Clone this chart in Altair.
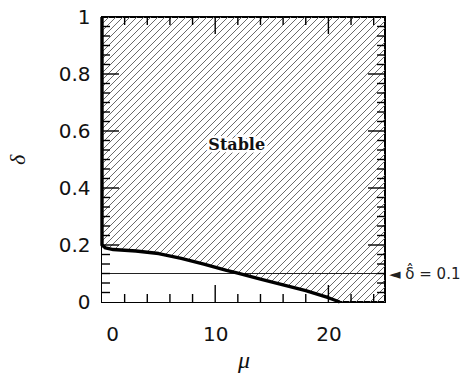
import altair as alt
import numpy as np
import pandas as pd

# Stability boundary delta(mu): stable region lies above it
mu_edge = [0.0, 0.0, 0.3, 1.0, 3.0, 5.0, 7.0, 9.0, 11.0, 12.0, 14.0, 16.0, 18.0, 20.0, 21.0]
delta_edge = [1.0, 0.2, 0.19, 0.184, 0.179, 0.17, 0.153, 0.133, 0.111, 0.101, 0.08, 0.06, 0.04, 0.015, 0.0]

delta_ref = 0.1
x_labels = [0, 10, 20]
y_labels = [0, 0.2, 0.4, 0.6, 0.8, 1]
x_minor = [2, 4, 6, 8, 12, 14, 16, 18, 22, 24]
x_major = [10, 20]

W, H = 283, 285
X_MAX, Y_MAX = 25, 1

xs = alt.Scale(domain=[0, X_MAX], nice=False, zero=False)
ys = alt.Scale(domain=[0, Y_MAX], nice=False, zero=False)

label_font = "DejaVu Sans"
x_axis = alt.Axis(values=x_labels, ticks=False, domain=False, grid=False,
                  labelFont=label_font, labelFontSize=20, labelColor="#111",
                  labelPadding=22, labelFlush=False, title="μ", titleFont="Liberation Serif",
                  titleFontStyle="italic", titleFontWeight="normal", titleFontSize=24,
                  titlePadding=4, titleColor="#111",
                  labelOffset=alt.ConditionalAxisNumber(
                      condition={"test": "datum.value === 0", "value": 10}, value=0))
y_axis = alt.Axis(values=y_labels, format="~g", ticks=False, domain=False, grid=False,
                  labelFont=label_font, labelFontSize=20, labelColor="#111",
                  labelPadding=12, title="δ", titleFont="Liberation Serif",
                  titleFontStyle="italic", titleFontWeight="normal", titleFontSize=22,
                  titlePadding=29, titleColor="#111")


def X(field="mu"):
    return alt.X(f"{field}:Q", scale=xs, axis=x_axis)


def Y(field="delta"):
    return alt.Y(f"{field}:Q", scale=ys, axis=y_axis)


edge = pd.DataFrame({"mu": mu_edge, "delta": delta_edge})

# 45-degree hatching lines across the plot, clipped to the frame
sx = W / X_MAX
sy = H / Y_MAX
run = H / sx
step = 7 / sx
starts = np.arange(-run, X_MAX + step, step)
hatch = pd.DataFrame({"mu": starts, "mu2": starts + run,
                      "delta": 0.0, "delta2": float(Y_MAX)})

hatch_layer = alt.Chart(hatch).mark_rule(clip=True, color="#6a6a6a", strokeWidth=1).encode(
    x=X(), x2="mu2:Q", y=Y(), y2="delta2:Q")

# unstable region below the boundary is left blank
blank_layer = alt.Chart(edge.iloc[1:]).mark_area(color="white", opacity=1, clip=True).encode(
    x=X(), y=Y())

ref_line = alt.Chart(pd.DataFrame({"delta": [delta_ref]})).mark_rule(
    color="#222", strokeWidth=1.2).encode(y=Y(), x=alt.value(0), x2=alt.value(W))

edge_line = alt.Chart(edge).mark_line(color="black", strokeWidth=3.4,
                                      strokeJoin="round").encode(
    x=X(), y=Y(), order=alt.Order("idx:Q")).transform_window(idx="row_number()")

# inward ticks on all four sides, lengths given in pixels
y_all = [k / 30 for k in range(1, 30)]
y_minor = [v for k, v in enumerate(y_all, start=1) if k % 6]
y_major = [v for k, v in enumerate(y_all, start=1) if k % 6 == 0]

xt_rows, yt_rows = [], []
for vals, length in [(x_minor, 8), (x_major, 17)]:
    for v in vals:
        xt_rows.append({"mu": v, "lo": 0.0, "hi": length / sy})
        xt_rows.append({"mu": v, "lo": float(Y_MAX), "hi": Y_MAX - length / sy})
for vals, length in [(y_minor, 8), (y_major, 17)]:
    for v in vals:
        yt_rows.append({"delta": v, "lo": 0.0, "hi": length / sx})
        yt_rows.append({"delta": v, "lo": float(X_MAX), "hi": X_MAX - length / sx})

x_ticks = alt.Chart(pd.DataFrame(xt_rows)).mark_rule(color="black", strokeWidth=1.4).encode(
    x=X(), y=alt.Y("lo:Q", scale=ys, axis=y_axis), y2="hi:Q")
y_ticks = alt.Chart(pd.DataFrame(yt_rows)).mark_rule(color="black", strokeWidth=1.4).encode(
    y=Y(), x=alt.X("lo:Q", scale=xs, axis=x_axis), x2="hi:Q")

label_df = pd.DataFrame({"mu": [11.9], "delta": [0.55], "t": ["Stable"]})
stable_halo = alt.Chart(label_df).mark_text(
    font="DejaVu Serif", fontWeight="bold", fontSize=16, stroke="white",
    strokeWidth=5, color="white").encode(x=X(), y=Y(), text="t:N")
stable_text = alt.Chart(label_df).mark_text(
    font="DejaVu Serif", fontWeight="bold", fontSize=16, color="#111").encode(
    x=X(), y=Y(), text="t:N")

note_df = pd.DataFrame({"mu": [X_MAX], "delta": [delta_ref],
                        "t": ["◄ δ̂ =  " + f"{delta_ref:g}"]})
note = alt.Chart(note_df).mark_text(
    font=label_font, fontSize=15, align="left", baseline="middle", dx=4,
    color="#222").encode(x=X(), y=Y(), text="t:N")

chart = alt.layer(
    hatch_layer, blank_layer, ref_line, edge_line,
    stable_halo, stable_text, note, x_ticks, y_ticks
).properties(
    width=W, height=H,
    background="white",
    autosize=alt.AutoSizeParams(type="none"),
    padding={"left": 102, "top": 17, "right": 82, "bottom": 74},
).configure_view(stroke="black", strokeWidth=2)

chart.save("out.html", embed_options={"renderer": "svg", "actions": False})
